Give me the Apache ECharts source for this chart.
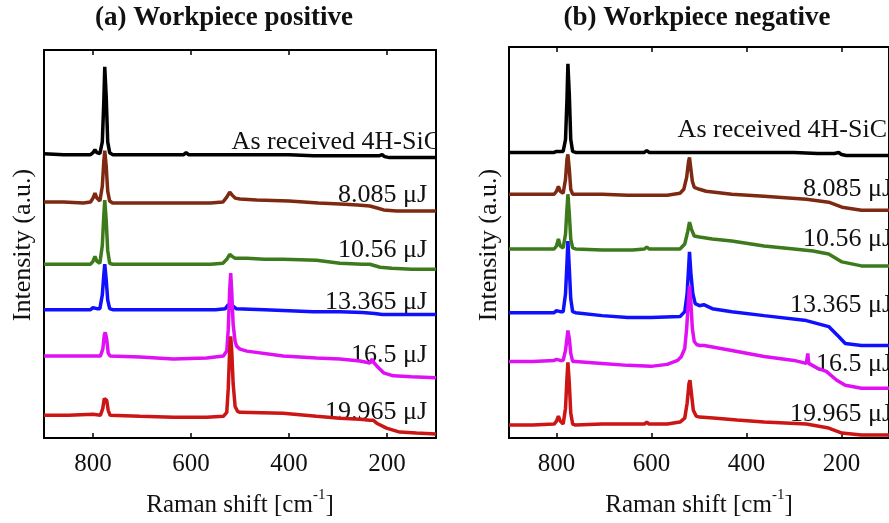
<!DOCTYPE html>
<html><head><meta charset="utf-8">
<script src="https://cdn.jsdelivr.net/npm/echarts@6/dist/echarts.min.js"></script>
<style>html,body{margin:0;padding:0;background:#fff}#c{width:889px;height:523px}</style>
</head><body><div id="c"></div>
<script>
// ---- Data (Raman shift [cm^-1], intensity in arbitrary units, offset stacked) ----
const seriesNames = ['As received 4H-SiC', '8.085 μJ', '10.56 μJ', '13.365 μJ', '16.5 μJ', '19.965 μJ'];
const panelTitles = ['(a) Workpiece positive', '(b) Workpiece negative'];
const xTicks = [800, 600, 400, 200];

// (a) Workpiece positive
const posAsReceived = [[900,288],[860,287],[820,287],[805,287],[800,289],[796,292],[792,289],[786,288],[781,300],[778,340],[776,376],[773,345],[770,300],[766,289],[760,287],[700,287],[640,287],[615,287],[610,289],[605,287],[550,287],[500,287],[450,287],[400,287],[350,286],[300,286],[250,286],[215,286],[210,287],[205,285],[195,284],[150,284],[100,284]];
const pos8085 = [[900,239],[860,239],[820,238],[805,239],[800,243],[796,248],[792,243],[786,240],[781,255],[778,280],[776,291],[773,275],[770,250],[766,240],[760,238],[700,238],[650,238],[600,238],[560,238],[535,239],[527,244],[521,249],[516,246],[510,243],[500,242],[466,241],[400,240],[340,238],[296,237],[260,236],[235,235],[220,233],[207,231],[180,230],[140,230],[100,230]];
const pos1056 = [[900,176],[850,176],[805,176],[800,179],[796,184],[792,179],[786,177],[781,195],[778,225],[776,241],[773,220],[770,190],[766,177],[760,176],[700,176],[650,176],[600,176],[560,176],[535,177],[527,181],[521,186],[516,184],[510,182],[486,182],[450,181],[412,181],[344,180],[296,177],[250,176],[235,176],[214,173],[190,172],[150,171],[100,171]];
const pos13365 = [[900,130],[850,130],[805,130],[800,132],[796,134],[792,131],[786,131],[781,145],[778,165],[776,176],[773,160],[770,140],[766,131],[760,130],[700,130],[650,130],[600,130],[550,130],[530,131],[524,135],[520,137],[515,134],[508,131],[450,130],[400,129],[350,128],[296,128],[250,127],[225,126],[210,125],[150,125],[100,125]];
const pos165 = [[900,83],[850,83],[800,83],[785,83],[780,90],[777,104],[775,107],[772,100],[769,86],[765,83],[704,82],[636,80],[568,81],[534,83],[527,88],[524,110],[521,150],[519,167],[517,150],[514,115],[510,98],[507,93],[500,90],[486,88],[412,83],[344,81],[296,80],[255,78],[235,76],[230,80],[228,77],[221,73],[207,66],[187,63],[150,62],[100,61]];
const pos19965 = [[900,23],[850,23],[800,24],[785,23],[780,30],[777,40],[775,41],[772,38],[769,28],[765,23],[704,22],[636,21],[568,21],[534,22],[527,26],[524,50],[521,90],[519,103],[517,90],[514,55],[510,32],[505,27],[500,26],[412,25],[344,22],[296,20],[255,19],[235,18],[228,18],[221,15],[201,10],[174,6],[140,5],[100,4]];

// (b) Workpiece negative
const negAsReceived = [[900,287],[850,287],[805,287],[800,288],[796,290],[792,288],[786,288],[781,300],[778,340],[776,376],[773,345],[770,300],[766,288],[760,287],[700,287],[640,287],[615,287],[610,289],[605,287],[550,287],[500,287],[450,287],[400,287],[350,287],[300,287],[250,286],[215,286],[206,287],[200,285],[190,284],[150,284],[100,284]];
const neg8085 = [[900,245],[850,245],[805,245],[800,248],[796,253],[792,248],[786,246],[781,260],[778,280],[776,285],[773,270],[770,250],[766,245],[760,245],[704,245],[650,244],[601,244],[567,244],[540,246],[532,250],[526,262],[522,278],[520,282],[517,270],[514,258],[510,252],[499,250],[485,248],[431,245],[363,243],[274,240],[227,237],[199,232],[158,229],[100,229]];
const neg1056 = [[900,190],[850,190],[805,190],[800,193],[796,200],[792,193],[786,191],[781,205],[778,230],[776,245],[773,225],[770,200],[766,191],[760,190],[704,189],[640,189],[615,190],[610,192],[605,190],[567,190],[540,190],[530,195],[524,207],[520,217],[516,210],[510,203],[499,202],[472,200],[431,198],[363,193],[300,190],[260,188],[227,185],[199,177],[158,173],[100,173]];
const neg13365 = [[900,126],[850,126],[805,126],[800,128],[796,130],[792,127],[786,127],[781,145],[778,175],[776,198],[773,170],[770,140],[766,127],[760,126],[704,123],[650,121],[601,121],[540,122],[530,127],[525,145],[522,170],[520,187],[517,165],[513,145],[508,135],[499,133],[490,134],[472,130],[431,127],[363,123],[274,118],[227,112],[206,102],[192,95],[158,93],[100,93]];
const neg165 = [[900,77],[850,77],[805,78],[800,79],[796,81],[792,78],[786,78],[781,88],[778,100],[776,108],[773,100],[770,85],[766,77],[760,77],[704,75],[650,73],[601,72],[567,74],[545,78],[537,82],[530,90],[526,110],[522,140],[520,153],[517,135],[514,110],[510,97],[505,94],[499,93],[489,93],[431,88],[363,82],[300,78],[274,75],[272,76],[271,85],[269,75],[250,70],[232,67],[227,65],[210,58],[192,53],[158,50],[100,50]];
const neg19965 = [[900,13],[850,13],[805,14],[800,17],[796,22],[792,17],[786,14],[781,30],[778,60],[776,76],[773,55],[770,25],[766,14],[760,13],[704,14],[640,14],[615,14],[610,16],[605,14],[567,14],[540,16],[530,20],[525,35],[521,55],[519,58],[516,45],[512,28],[506,22],[499,21],[470,20],[445,19],[420,18],[363,16],[274,14],[227,10],[199,5],[158,3],[100,3]];

const posData = [posAsReceived, pos8085, pos1056, pos13365, pos165, pos19965];
const negData = [negAsReceived, neg8085, neg1056, neg13365, neg165, neg19965];

// ---- Styling ----
const colors = ['#000000', '#7e2a12', '#3d7a1c', '#1010ff', '#e010f5', '#cc1515'];
const FONT = '"Liberation Serif", "Times New Roman", serif';
const TXT = '#111';

const chart = echarts.init(document.getElementById('c'), null, {renderer: 'canvas'});

const grids = [
  {left: 44, top: 50, width: 392, height: 393},
  {left: 509, top: 47, width: 391, height: 393}
];

function xAxes(gi) {
  const common = {gridIndex: gi, type: 'value', min: 100, max: 900, inverse: true,
    splitLine: {show: false},
    axisLine: {show: true, onZero: false, lineStyle: {color: '#000', width: 2}},
    axisTick: {show: true, inside: true, length: 5, customValues: xTicks, lineStyle: {color: '#000', width: 1.5}}};
  return [
    Object.assign({}, common, {position: 'bottom',
      axisLabel: {show: true, customValues: xTicks, margin: 14, fontFamily: FONT, fontSize: 25, color: TXT},
      name: '{a|Raman shift [cm}{b|-1}{a|]}', nameLocation: 'middle', nameGap: 50,
      nameTextStyle: {fontFamily: FONT, color: TXT, rich: {
        a: {fontFamily: FONT, fontSize: 25, color: TXT, lineHeight: 30, verticalAlign: 'bottom'},
        b: {fontFamily: FONT, fontSize: 15, color: TXT, lineHeight: 30, verticalAlign: 'top'}}}}),
    Object.assign({}, common, {position: 'top', axisLabel: {show: false}})
  ];
}
function yAxes(gi) {
  const common = {gridIndex: gi, type: 'value', min: 0, max: 393,
    splitLine: {show: false}, axisTick: {show: false}, axisLabel: {show: false},
    axisLine: {show: true, onZero: false, lineStyle: {color: '#000', width: 2}}};
  return [
    Object.assign({}, common, {position: 'left'}),
    Object.assign({}, common, {position: 'right'})
  ];
}

const series = [];
[posData, negData].forEach((panel, pi) => {
  panel.forEach((d, si) => {
    series.push({
      type: 'line', name: seriesNames[si] + (pi ? ' (negative)' : ' (positive)'),
      xAxisIndex: pi * 2, yAxisIndex: pi * 2, data: d,
      showSymbol: false, symbol: 'none', clip: true,
      lineStyle: {color: colors[si], width: 3.5}, itemStyle: {color: colors[si]},
      z: 2 + si
    });
  });
});

// Annotation text (curve labels, titles, y-axis names)
const labelRight = [[441, 427, 427, 427, 427, 427], [887, 892, 892, 892, 892, 892]];
const labelMid = [[142, 195, 250, 302, 355, 412], [130, 189, 239, 305, 364, 414]];
const graphics = [];
[0, 1].forEach(pi => {
  seriesNames.forEach((t, si) => {
    graphics.push({type: 'text', x: labelRight[pi][si], y: labelMid[pi][si], z: 1,
      style: {text: t, font: '26px ' + FONT, fill: TXT, align: 'right', verticalAlign: 'middle'}});
  });
});
// white mask to clip the first-panel label at its frame, like the reference
graphics.push({type: 'rect', shape: {x: 437, y: 120, width: 10, height: 34}, z: 2, style: {fill: '#fff'}});
graphics.push({type: 'text', x: 224, y: 18, style: {text: panelTitles[0], font: 'bold 27px ' + FONT, fill: TXT, align: 'center', verticalAlign: 'middle'}});
graphics.push({type: 'text', x: 697, y: 18, style: {text: panelTitles[1], font: 'bold 27px ' + FONT, fill: TXT, align: 'center', verticalAlign: 'middle'}});
graphics.push({type: 'text', x: 23, y: 245, rotation: Math.PI / 2, style: {text: 'Intensity (a.u.)', font: '26px ' + FONT, fill: TXT, align: 'center', verticalAlign: 'middle'}});
graphics.push({type: 'text', x: 489, y: 245, rotation: Math.PI / 2, style: {text: 'Intensity (a.u.)', font: '26px ' + FONT, fill: TXT, align: 'center', verticalAlign: 'middle'}});

chart.setOption({
  animation: false,
  backgroundColor: '#fff',
  grid: grids,
  xAxis: xAxes(0).concat(xAxes(1)),
  yAxis: yAxes(0).concat(yAxes(1)),
  series: series,
  graphic: graphics
});
</script>
</body></html>
